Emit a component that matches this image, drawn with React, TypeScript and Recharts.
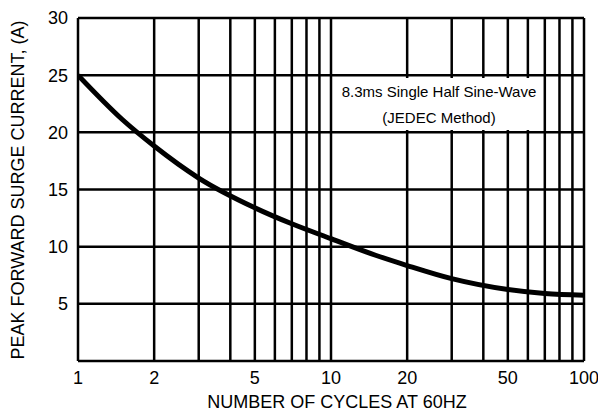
import React from "react";
import {
  LineChart,
  Line,
  XAxis,
  YAxis,
  CartesianGrid,
  ReferenceArea,
} from "recharts";

// surge rating curve
const cycles = [1, 1.5, 2, 3, 5, 7, 10, 15, 20, 30, 50, 70, 100];
const current = [25, 21.1, 18.8, 16.0, 13.4, 12.0, 10.7, 9.25, 8.35, 7.2, 6.25, 5.9, 5.75];

const xTicks = [1, 2, 3, 4, 5, 6, 7, 8, 9, 10, 20, 30, 40, 50, 60, 70, 80, 90, 100];
const xLabelled = [1, 2, 5, 10, 20, 50, 100];
const yTicks = [0, 5, 10, 15, 20, 25, 30];

const noteLines = ["8.3ms Single Half Sine-Wave", "(JEDEC Method)"];

const FONT = "'Liberation Sans', Arial, sans-serif";

const data = cycles.map((c, i) => ({ cycles: c, current: current[i] }));

const NoteLabel = (props: any) => {
  const vb = props.viewBox || {};
  const cx = vb.x + vb.width / 2;
  return (
    <g>
      <text x={cx} y={vb.y + 18.5} textAnchor="middle" fontSize={15} fontFamily={FONT} fill="#000">
        {noteLines[0]}
      </text>
      <text x={cx} y={vb.y + 45} textAnchor="middle" fontSize={15} fontFamily={FONT} fill="#000">
        {noteLines[1]}
      </text>
    </g>
  );
};

const YTitle = () => (
  <text
    x={17.5}
    y={190}
    dy="0.36em"
    transform="rotate(-90 17.5 190)"
    textAnchor="middle"
    fontSize={18}
    fontFamily={FONT}
    fill="#000"
  >
    PEAK FORWARD SURGE CURRENT, (A)
  </text>
);

const XTitle = () => (
  <text x={337} y={408} textAnchor="middle" fontSize={18} fontFamily={FONT} fill="#000">
    NUMBER OF CYCLES AT 60HZ
  </text>
);

export default function App() {
  return (
    <div style={{ width: 598, height: 412, background: "#fff" }}>
      <style>{"body{margin:0;background:#fff}"}</style>
      <LineChart
        width={598}
        height={412}
        data={data}
        margin={{ top: 18, right: 14, left: 0, bottom: 0 }}
      >
        <CartesianGrid stroke="#000" strokeWidth={2.5} />
        <XAxis
          dataKey="cycles"
          type="number"
          scale="log"
          domain={[1, 100]}
          ticks={xTicks}
          interval={0}
          allowDataOverflow
          height={51}
          axisLine={false}
          tickLine={false}
          tickSize={8}
          tickMargin={2}
          tickFormatter={(v: number) => (xLabelled.includes(v) ? String(v) : "")}
          tick={{ fill: "#000", fontSize: 18, fontFamily: FONT }}
          label={XTitle}
        />
        <YAxis
          type="number"
          domain={[0, 30]}
          ticks={yTicks}
          interval={0}
          width={78}
          axisLine={false}
          tickLine={false}
          tickSize={8}
          tickMargin={2}
          tickFormatter={(v: number) => (v === 0 ? "" : String(v))}
          tick={{ fill: "#000", fontSize: 18, fontFamily: FONT }}
          label={YTitle}
        />
        <ReferenceArea
          x1={10.66}
          x2={67}
          y1={20.2}
          y2={24.75}
          fill="#fff"
          fillOpacity={1}
          stroke="none"
          label={NoteLabel}
          ifOverflow="visible"
        />
        <Line
          type="monotone"
          dataKey="current"
          stroke="#000"
          strokeWidth={5}
          dot={false}
          isAnimationActive={false}
        />
      </LineChart>
    </div>
  );
}
